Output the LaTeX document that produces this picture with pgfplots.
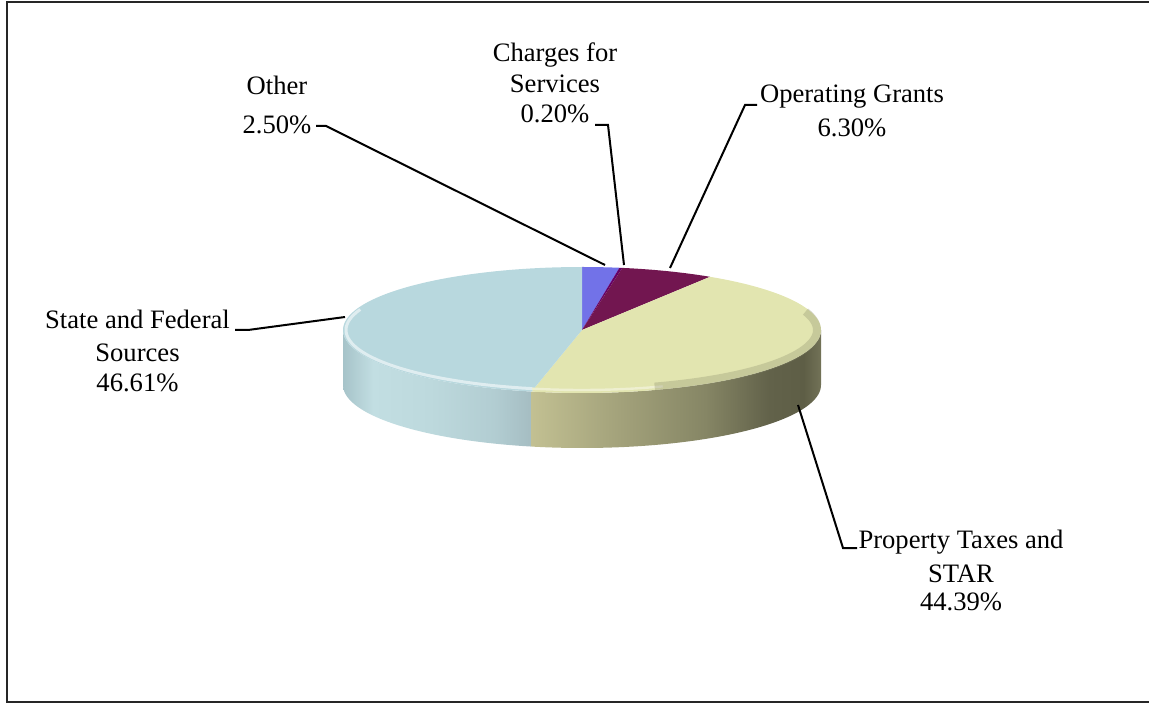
\documentclass[border=0pt]{standalone}
\usepackage{pgfplots}
\pgfplotsset{compat=1.18}
\usepackage{pgfplotstable}
\usepackage{fontspec}
\setmainfont{Liberation Serif}

\definecolor{cState}{HTML}{B8D8DE}
\definecolor{cProp}{HTML}{E2E5B0}
\definecolor{cGrant}{HTML}{721650}
\definecolor{cOther}{HTML}{7272E8}
\definecolor{cCharge}{HTML}{660066}

\definecolor{s1}{HTML}{A6C3C9}
\definecolor{s2}{HTML}{C2DEE2}
\definecolor{s3}{HTML}{BDD9DD}
\definecolor{s4}{HTML}{B2CDD2}
\definecolor{s5}{HTML}{A5BDC2}
\definecolor{p1}{HTML}{C2C092}
\definecolor{p2}{HTML}{A7A67E}
\definecolor{p3}{HTML}{868665}
\definecolor{p4}{HTML}{62624A}
\definecolor{p5}{HTML}{5E5E46}
\definecolor{p6}{HTML}{727257}

\pgfdeclarehorizontalshading{stateside}{100bp}{color(0bp)=(s1); color(25bp)=(s1); color(33bp)=(s2); color(48bp)=(s3); color(65bp)=(s4); color(75bp)=(s5); color(100bp)=(s5)}
\pgfdeclarehorizontalshading{propside}{100bp}{color(0bp)=(p1); color(25bp)=(p1); color(38bp)=(p2); color(55bp)=(p3); color(66bp)=(p4); color(72bp)=(p5); color(75bp)=(p6); color(100bp)=(p6)}

\pgfplotstableread{
name value
Other 2.50
Charges 0.20
Grants 6.30
Property 44.39
State 46.61
}\piedata

\begin{document}%
\begin{tikzpicture}
\pgfplotstablegetelem{0}{value}\of\piedata\let\vA\pgfplotsretval
\pgfplotstablegetelem{1}{value}\of\piedata\let\vB\pgfplotsretval
\pgfplotstablegetelem{2}{value}\of\piedata\let\vC\pgfplotsretval
\pgfplotstablegetelem{3}{value}\of\piedata\let\vD\pgfplotsretval
\pgfplotstablegetelem{4}{value}\of\piedata\let\vE\pgfplotsretval
\pgfmathsetmacro\aA{90}
\pgfmathsetmacro\aB{\aA-3.6*\vA}
\pgfmathsetmacro\aC{\aB-3.6*\vB}
\pgfmathsetmacro\aD{\aC-3.6*\vC}
\pgfmathsetmacro\aE{\aD-3.6*\vD}
\pgfmathsetmacro\aF{\aE-3.6*\vE}
\pgfmathsetmacro\aEp{\aE+360}
\def\cx{582}\def\cy{374}\def\rx{239}\def\ry{63}\def\dep{55}
\begin{axis}[x=0.5bp, y=0.5bp, xmin=0, xmax=1149, ymin=0, ymax=704,
  hide axis, clip=false]
\coordinate (BL) at (0,0);
\coordinate (TR) at (1149,704);
% frame
\draw[black!85, line width=1bp] (1152,702) -- (6.5,702) -- (6.5,2) -- (1152,2);
% side faces
\path[shading=stateside] plot[domain=180:\aEp, samples=40, variable=\t] ({\cx+\rx*cos(\t)},{\cy+\ry*sin(\t)})
  -- plot[domain=\aEp:180, samples=40, variable=\t] ({\cx+\rx*cos(\t)},{\cy-\dep+\ry*sin(\t)}) -- cycle;
\path[shading=propside] plot[domain=\aEp:360, samples=60, variable=\t] ({\cx+\rx*cos(\t)},{\cy+\ry*sin(\t)})
  -- plot[domain=360:\aEp, samples=60, variable=\t] ({\cx+\rx*cos(\t)},{\cy-\dep+\ry*sin(\t)}) -- cycle;
% top faces
\fill[cOther] (\cx,\cy) -- plot[domain=\aA:\aB, samples=10, variable=\t] ({\cx+\rx*cos(\t)},{\cy+\ry*sin(\t)}) -- cycle;
\fill[cCharge] (\cx,\cy) -- plot[domain=\aB:\aC, samples=4, variable=\t] ({\cx+\rx*cos(\t)},{\cy+\ry*sin(\t)}) -- cycle;
\fill[cGrant] (\cx,\cy) -- plot[domain=\aC:\aD, samples=15, variable=\t] ({\cx+\rx*cos(\t)},{\cy+\ry*sin(\t)}) -- cycle;
\fill[cProp] (\cx,\cy) -- plot[domain=\aD:\aE, samples=80, variable=\t] ({\cx+\rx*cos(\t)},{\cy+\ry*sin(\t)}) -- cycle;
\fill[cState] (\cx,\cy) -- plot[domain=\aE:\aF, samples=80, variable=\t] ({\cx+\rx*cos(\t)},{\cy+\ry*sin(\t)}) -- cycle;
% rim highlights / bevel
\draw[white!55!cState, line width=1.5bp] plot[domain=160:\aEp, samples=40, variable=\t] ({\cx+(\rx-3)*cos(\t)},{\cy+(\ry-3)*sin(\t)});
\draw[white!40!cProp, line width=1.2bp] plot[domain=\aEp:290, samples=20, variable=\t] ({\cx+(\rx-3)*cos(\t)},{\cy+(\ry-3)*sin(\t)});
\draw[cProp!60!black, opacity=0.3, line width=4bp] plot[domain=-72:18, samples=40, variable=\t] ({\cx+(\rx-4)*cos(\t)},{\cy+(\ry-3.5)*sin(\t)});
% leader lines
\draw[black, line width=1bp] (316,578) -- (326,578) -- (605,439);
\draw[black, line width=1bp] (595,579) -- (608,579) -- (624,439);
\draw[black, line width=1bp] (757,599) -- (745,599) -- (670,436);
\draw[black, line width=1bp] (235,374) -- (248,374) -- (345,387);
\draw[black, line width=1bp] (798,299) -- (843,156) -- (857,156);
% labels
\begin{scope}[every node/.style={anchor=base, inner sep=0pt, font=\fontsize{13.3bp}{16bp}\selectfont}]
\node at (277,609) {Other};
\node at (277,570) {2.50\%};
\node at (555,642) {Charges for};
\node at (555,611) {Services};
\node at (555,581) {0.20\%};
\node at (852,601) {Operating Grants};
\node at (852,567) {6.30\%};
\node at (137.5,375) {State and Federal};
\node at (137.5,342) {Sources};
\node at (137.5,312) {46.61\%};
\node at (961,156) {Property Taxes and};
\node at (961,122) {STAR};
\node at (961,94) {44.39\%};
\end{scope}
\end{axis}
\pgfresetboundingbox
\useasboundingbox (BL) rectangle (TR);
\end{tikzpicture}%
\end{document}
